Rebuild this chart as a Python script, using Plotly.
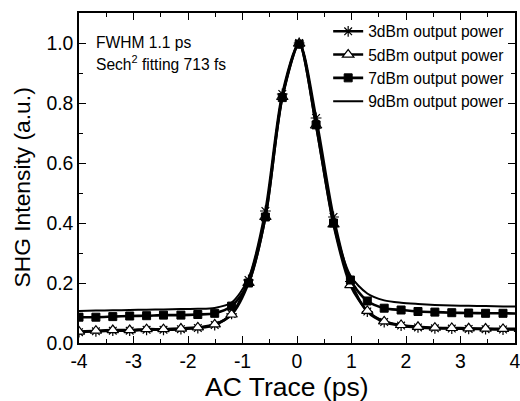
import plotly.graph_objects as go

# Time delay (ps)
delay_ps = [-4.00, -3.69, -3.38, -3.07, -2.76, -2.45, -2.13, -1.82, -1.51, -1.20,
            -0.89, -0.58, -0.27, 0.04, 0.35, 0.67, 0.98, 1.29, 1.60, 1.91,
            2.22, 2.53, 2.84, 3.15, 3.46, 3.78, 4.09]

# SHG intensity (a.u.)
p3dbm = [0.036, 0.039, 0.041, 0.041, 0.044, 0.044, 0.046, 0.050, 0.060, 0.097,
         0.210, 0.440, 0.830, 1.000, 0.750, 0.420, 0.205, 0.105, 0.070, 0.058,
         0.052, 0.049, 0.048, 0.047, 0.046, 0.045, 0.045]
p5dbm = [0.038, 0.041, 0.043, 0.043, 0.046, 0.046, 0.048, 0.052, 0.062, 0.095,
         0.200, 0.420, 0.820, 0.998, 0.725, 0.395, 0.193, 0.107, 0.072, 0.060,
         0.054, 0.051, 0.050, 0.049, 0.048, 0.047, 0.047]
p7dbm = [0.086, 0.086, 0.088, 0.090, 0.091, 0.093, 0.093, 0.095, 0.099, 0.123,
         0.200, 0.420, 0.818, 0.996, 0.727, 0.400, 0.210, 0.140, 0.116, 0.110,
         0.105, 0.103, 0.101, 0.100, 0.099, 0.099, 0.098]
p9dbm = [0.107, 0.108, 0.109, 0.110, 0.111, 0.112, 0.113, 0.114, 0.117, 0.135,
         0.215, 0.430, 0.820, 1.000, 0.735, 0.405, 0.225, 0.165, 0.142, 0.134,
         0.130, 0.127, 0.125, 0.124, 0.123, 0.122, 0.121]

names = ["3dBm output power", "5dBm output power", "7dBm output power", "9dBm output power"]

x_ticks = [-4, -3, -2, -1, 0, 1, 2, 3, 4]
x_ticktext = ["-4", "-3", "-2", "-1", "0", "1", "2", "3", "4"]

FONT = "Liberation Sans, Arial, Helvetica, sans-serif"

fig = go.Figure()
fig.add_trace(go.Scatter(
    x=delay_ps, y=p3dbm, name=names[0], mode="lines+markers",
    line=dict(color="black", width=2.6, shape="spline", smoothing=0.8),
    marker=dict(symbol="asterisk-open", size=9, color="black",
                line=dict(color="black", width=1.2))))
fig.add_trace(go.Scatter(
    x=delay_ps, y=p5dbm, name=names[1], mode="lines+markers",
    line=dict(color="black", width=2.6, shape="spline", smoothing=0.8),
    marker=dict(symbol="triangle-up", size=10, color="white",
                line=dict(color="black", width=1.2))))
fig.add_trace(go.Scatter(
    x=delay_ps, y=p7dbm, name=names[2], mode="lines+markers",
    line=dict(color="black", width=2.6, shape="spline", smoothing=0.8),
    marker=dict(symbol="square", size=8, color="black",
                line=dict(color="black", width=1))))
fig.add_trace(go.Scatter(
    x=delay_ps, y=p9dbm, name=names[3], mode="lines",
    line=dict(color="black", width=2, shape="spline", smoothing=0.8)))

fig.add_annotation(x=0.034, y=0.912, xref="paper", yref="paper",
                   text="FWHM 1.1 ps", showarrow=False, xanchor="left", yanchor="middle",
                   font=dict(family=FONT, size=15.6, color="black"))
fig.add_annotation(x=0.034, y=0.847, xref="paper", yref="paper",
                   text="Sech<sup>2</sup> fitting 713 fs", showarrow=False,
                   xanchor="left", yanchor="middle",
                   font=dict(family=FONT, size=15.6, color="black"))

# axis titles
fig.add_annotation(x=0.477, y=-0.132, xref="paper", yref="paper",
                   text="AC Trace (ps)", showarrow=False, xanchor="center", yanchor="middle",
                   font=dict(family=FONT, size=26.5, color="black"))
fig.add_annotation(x=-0.131, y=0.471, xref="paper", yref="paper",
                   text="SHG Intensity (a.u.)", showarrow=False, textangle=-90,
                   xanchor="center", yanchor="middle",
                   font=dict(family=FONT, size=22.8, color="black"))

axis_common = dict(showline=True, linecolor="black", linewidth=1.5, mirror="ticks",
                   ticks="inside", ticklen=7, tickwidth=1.2, tickcolor="black",
                   showgrid=False, zeroline=False, automargin=False,
                   ticklabeloverflow="allow",
                   tickfont=dict(family=FONT, size=19.4, color="black"))

fig.update_xaxes(range=[-4, 4], tickmode="array", tickvals=x_ticks, ticktext=x_ticktext,
                 minor=dict(ticks="inside", dtick=0.5, tick0=0, ticklen=4, tickwidth=1.2,
                            tickcolor="black"),
                 **axis_common)
fig.update_yaxes(range=[0, 1.1], dtick=0.2, tick0=0, tickformat=".1f",
                 minor=dict(ticks="inside", dtick=0.1, tick0=0, ticklen=4, tickwidth=1.2,
                            tickcolor="black"),
                 **axis_common)

fig.update_layout(
    width=520, height=401,
    margin=dict(l=79, r=5, t=13, b=58),
    paper_bgcolor="white", plot_bgcolor="white",
    showlegend=True,
    legend=dict(x=0.5715, y=0.995, xanchor="left", yanchor="top",
                bgcolor="rgba(0,0,0,0)", borderwidth=0,
                font=dict(family=FONT, size=15.6, color="black"),
                tracegroupgap=0, itemwidth=30),
)

fig.write_html("out.html",
               config={"displayModeBar": False},
               post_script="document.body.style.margin='0';document.body.style.padding='0';")
